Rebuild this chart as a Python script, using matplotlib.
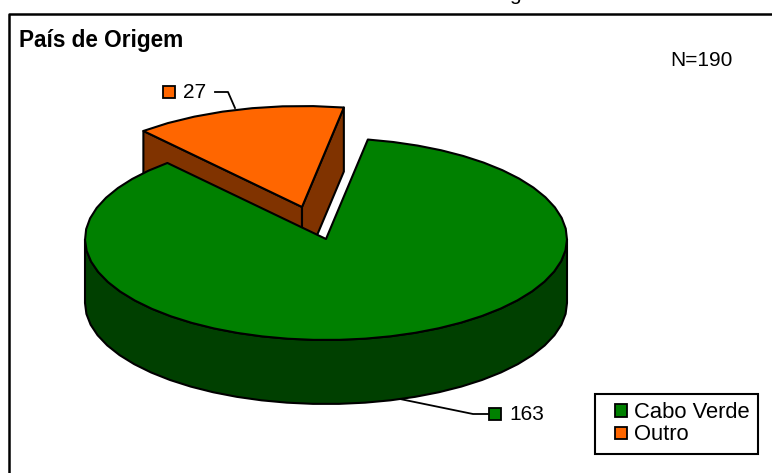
import numpy as np
import matplotlib
matplotlib.use("Agg")
import matplotlib.pyplot as plt
from matplotlib.patches import Polygon, Patch, Rectangle
from matplotlib.legend_handler import HandlerPatch

categories = ["Cabo Verde", "Outro"]
values = [163, 27]
title_text = "País de Origem"
note_text = "N=190"
colors_top = ["#008000", "#FF6600"]
colors_side = ["#004000", "#803300"]

plt.rcParams["font.family"] = ["Liberation Sans", "DejaVu Sans"]
fig = plt.figure(figsize=(7.72, 4.73), dpi=100)
ax = fig.add_axes([0, 0, 1, 1])
ax.set_xlim(0, 772)
ax.set_ylim(473, 0)
ax.axis("off")

cx, cy, rx, ry, depth = 326, 239, 241, 101, 64
start = 80.0
explode = {1: (-24, -32)}
lw = 1.5

total = sum(values)
spans = [v / total * 360 for v in values]

def rim(t0, t1, ox, oy, dz=0, step=6.0):
    n = max(2, int(abs(t1 - t0) / step))
    t = np.radians(np.linspace(t0, t1, n))
    return np.column_stack([cx + ox + rx * np.cos(t), cy + oy + dz - ry * np.sin(t)])

# slices run clockwise from the start angle
a_green0, a_green1 = start, start - spans[0]
a_or0, a_or1 = a_green1, a_green1 - spans[1]

# exploded slice: walls then top
ox, oy = explode[1]
apex = np.array([cx + ox, cy + oy])
rim_or = rim(a_or0, a_or1, ox, oy)
for p in (rim_or[0], rim_or[-1]):
    wall = np.array([apex, p, p + [0, depth], apex + [0, depth]])
    ax.add_patch(Polygon(wall, closed=True, fc=colors_side[1], ec="black", lw=lw, joinstyle="round", zorder=2))
ax.add_patch(Polygon(np.vstack([apex, rim_or]), closed=True, fc=colors_top[1], ec="black", lw=lw, joinstyle="round", zorder=3))

# main slice: outer wall then top
upper = rim(0, -180, 0, 0)
lower = rim(-180, 0, 0, 0, depth)
ax.add_patch(Polygon(np.vstack([upper, lower]), closed=True, fc=colors_side[0], ec="black", lw=lw, zorder=4))
rim_gr = rim(a_green0, a_green1, 0, 0)
ax.add_patch(Polygon(np.vstack([[cx, cy], rim_gr]), closed=True, fc=colors_top[0], ec="black", lw=lw, joinstyle="round", zorder=5))

# data labels with leader lines
ax.plot([235, 228, 215], [108, 92, 92], color="black", lw=1.3, zorder=6)
ax.plot([400, 473, 489], [399, 414, 414], color="black", lw=1.3, zorder=3.5)
ax.plot([169], [92], ls="none", marker="s", ms=8.5, mfc=colors_top[1], mec="black", mew=1.3, zorder=6)
ax.plot([495], [414], ls="none", marker="s", ms=8.5, mfc=colors_top[0], mec="black", mew=1.3, zorder=6)
ax.text(183, 92.5, str(values[1]), fontsize=15, va="center", ha="left")
ax.text(509, 414, str(values[0]), fontsize=15, va="center", ha="left")

# frame and clipped title descender
ax.plot([8.5, 8.5, 772], [473, 14.5, 14.5], color="black", lw=1.8, clip_on=False, zorder=1)
ax.text(515, 0, "g", fontsize=15, ha="center", va="baseline", clip_on=False)
ax.text(19, 41, title_text, fontsize=16.3, fontweight="bold", va="center", ha="left")
ax.text(701, 61, note_text, fontsize=15, va="center", ha="center")

def square_handle(legend, orig_handle, xdescent, ydescent, width, height, fontsize):
    size = 9
    return Rectangle((width - size - xdescent, (height - size) / 2 - ydescent), size, size)

handles = [Patch(fc=c, ec="black", lw=1.3) for c in colors_top]
leg = ax.legend(handles, categories, loc="upper left",
                bbox_to_anchor=(595 / 772, 1 - 394 / 473), bbox_transform=ax.transAxes,
                fontsize=15.8, fancybox=False, framealpha=1, edgecolor="black",
                handler_map={Patch: HandlerPatch(patch_func=square_handle)},
                handlelength=1.08, handletextpad=0.33,
                labelspacing=0.05, borderaxespad=0, borderpad=0.38)
leg.get_frame().set_linewidth(1.5)

fig.savefig("out.png", dpi=100)
